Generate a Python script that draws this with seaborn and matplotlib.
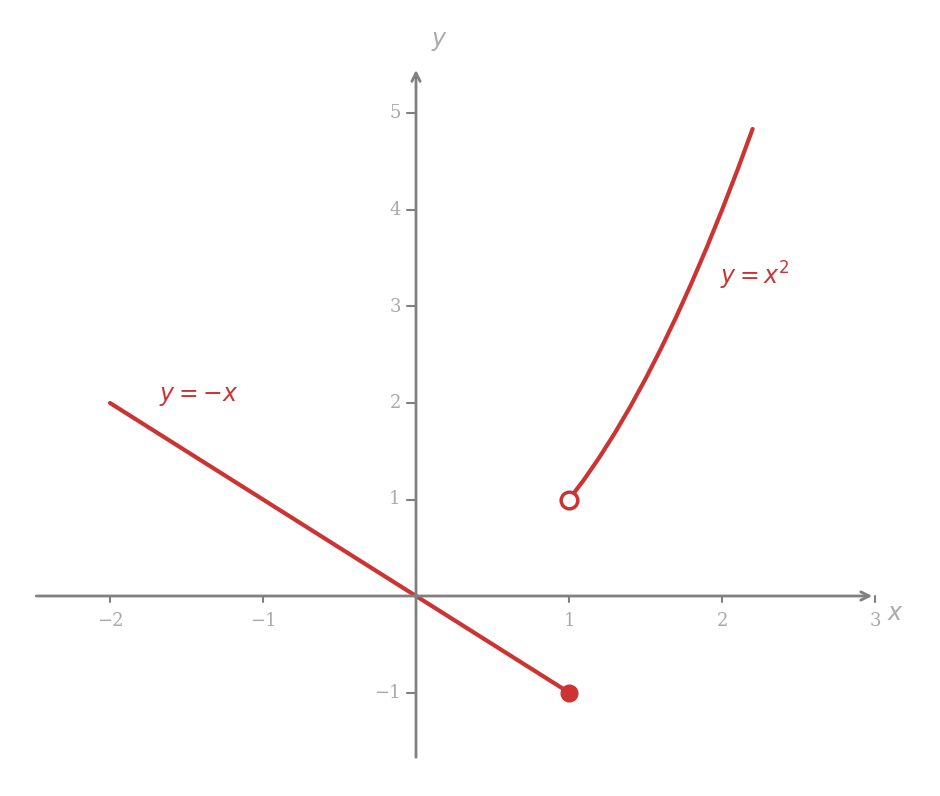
import numpy as np
import matplotlib
matplotlib.use("Agg")
import matplotlib.pyplot as plt
import seaborn as sns
import pandas as pd

sns.set_theme(style="white")
plt.rcParams['font.family'] = ['DejaVu Sans']

line_x = [-2, 1]
line_y = [2, -1]
curve_x = [1.0, 1.1, 1.2, 1.3, 1.4, 1.5, 1.6, 1.7, 1.8, 1.9, 2.0, 2.1, 2.2]
curve_y = [1.0, 1.21, 1.44, 1.69, 1.96, 2.25, 2.56, 2.89, 3.24, 3.61, 4.0, 4.41, 4.84]
xticks = [-2, -1, 1, 2, 3]
yticks = [-1, 1, 2, 3, 4, 5]

red = "#cc3333"
axc = "#808080"
tc = "#aaaaaa"

fig = plt.figure(figsize=(9.4, 7.96), dpi=100)
ax = fig.add_axes([0, 0, 1, 1])
ax.set_xlim(-416/153, (940-416)/153)
ax.set_ylim((596-796)/96.5, 596/96.5)
ax.axis("off")

ax.annotate("", xy=(3.0, 0), xytext=(-2.5, 0),
            arrowprops=dict(arrowstyle="->", color=axc, lw=2, mutation_scale=15))
ax.annotate("", xy=(0, 5.48), xytext=(0, -1.7),
            arrowprops=dict(arrowstyle="->", color=axc, lw=2, mutation_scale=15))
for t in xticks:
    ax.plot([t, t], [0, -0.06], color=axc, lw=1.5)
    ax.text(t, -0.17, f"{t}".replace("-", "\u2212"), ha="center", va="top",
            color=tc, fontsize=13, family="DejaVu Serif")
for t in yticks:
    ax.plot([0, -0.06*96.5/153*1.6], [t, t], color=axc, lw=1.5)
    ax.text(-0.1, t, f"{t}".replace("-", "\u2212"), ha="right", va="center",
            color=tc, fontsize=13, family="DejaVu Serif")
ax.text(3.08, -0.18, "$x$", color=tc, fontsize=17, ha="left", va="center")
ax.text(0.1, 5.75, "$y$", color=tc, fontsize=17, ha="left", va="center")

sns.lineplot(x=line_x, y=line_y, ax=ax, color=red, lw=3)
sns.lineplot(x=curve_x, y=curve_y, ax=ax, color=red, lw=3)
ax.plot([1], [-1], "o", color=red, ms=12, zorder=5)
ax.plot([1], [1], "o", mfc="white", mec=red, mew=2.5, ms=12, zorder=5)
ax.text(-1.68, 2.07, "$y=-x$", color=red, fontsize=17, ha="left", va="center")
ax.text(1.99, 3.32, "$y=x^2$", color=red, fontsize=17, ha="left", va="center")
ax.legend().remove() if ax.get_legend() else None
fig.savefig("out.png", dpi=100)
